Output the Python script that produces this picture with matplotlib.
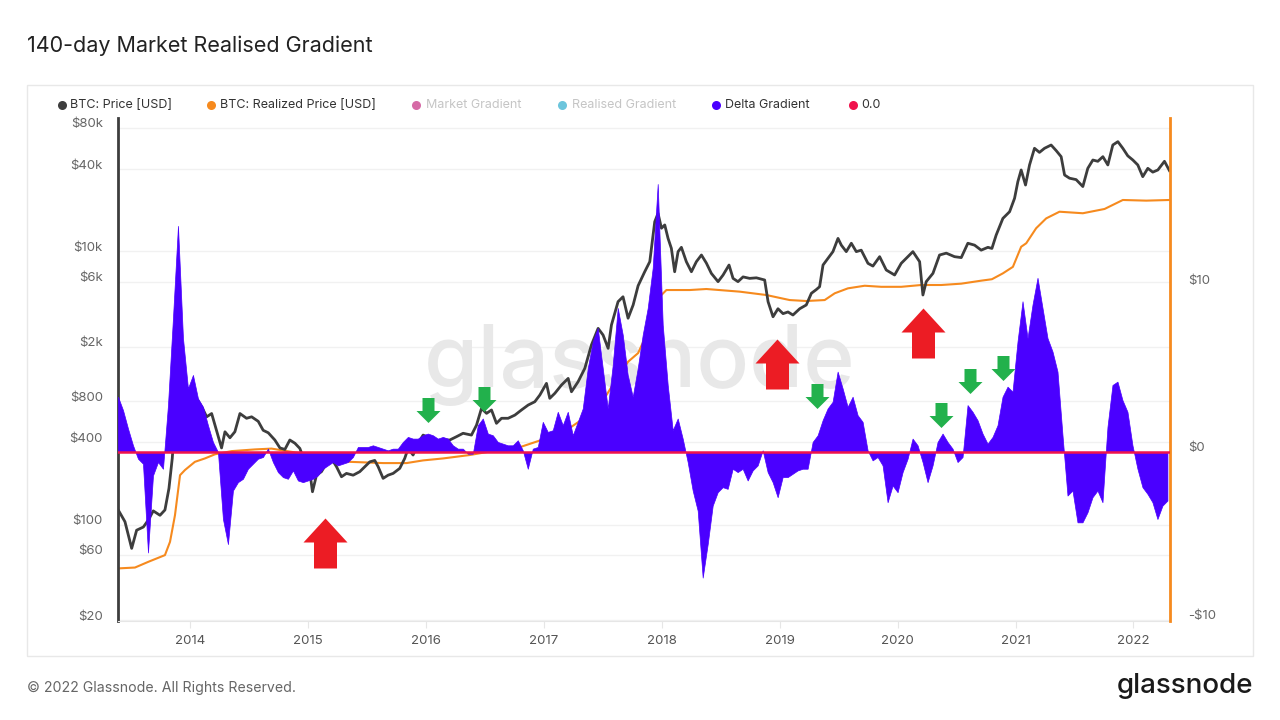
import numpy as np
import matplotlib
matplotlib.use('Agg')
import matplotlib.pyplot as plt
from matplotlib.patches import Rectangle
from matplotlib.lines import Line2D
from matplotlib.ticker import NullLocator
from matplotlib.transforms import ScaledTranslation

plt.rcParams['font.family'] = ['Inter', 'DejaVu Sans']

# ---- data (decimal years) ----
price_years = [2013.392, 2013.449, 2013.506, 2013.548, 2013.605, 2013.647, 2013.689, 2013.746,
               2013.788, 2013.822, 2013.850, 2013.88, 2013.92, 2013.97, 2014.03, 2014.07,
               2014.105, 2014.142, 2014.184, 2014.212, 2014.268, 2014.297, 2014.339, 2014.381,
               2014.424, 2014.48, 2014.523, 2014.579, 2014.621, 2014.664, 2014.72, 2014.763,
               2014.805, 2014.847, 2014.89, 2014.932, 2014.974, 2015.016, 2015.039, 2015.073,
               2015.115, 2015.158, 2015.2, 2015.243, 2015.285, 2015.327, 2015.384, 2015.44,
               2015.483, 2015.525, 2015.567, 2015.596, 2015.638, 2015.68, 2015.723, 2015.779,
               2015.821, 2015.85, 2015.892, 2015.935, 2015.977, 2016.034, 2016.09, 2016.147,
               2016.203, 2016.26, 2016.316, 2016.387, 2016.43, 2016.472, 2016.515, 2016.557,
               2016.599, 2016.642, 2016.698, 2016.755, 2016.811, 2016.868, 2016.924, 2016.967,
               2017.023, 2017.051, 2017.094, 2017.15, 2017.207, 2017.235, 2017.291, 2017.348,
               2017.404, 2017.461, 2017.503, 2017.546, 2017.574, 2017.63, 2017.672, 2017.715,
               2017.758, 2017.8, 2017.856, 2017.899, 2017.941, 2017.969, 2017.998, 2018.026,
               2018.054, 2018.082, 2018.11, 2018.139, 2018.167, 2018.209, 2018.252, 2018.294,
               2018.337, 2018.379, 2018.421, 2018.478, 2018.52, 2018.571, 2018.605, 2018.647,
               2018.69, 2018.746, 2018.803, 2018.873, 2018.902, 2018.944, 2018.986, 2019.029,
               2019.071, 2019.113, 2019.17, 2019.226, 2019.269, 2019.311, 2019.339, 2019.368,
               2019.41, 2019.452, 2019.495, 2019.523, 2019.565, 2019.608, 2019.65, 2019.692,
               2019.749, 2019.791, 2019.848, 2019.904, 2019.975, 2020.031, 2020.088, 2020.13,
               2020.187, 2020.215, 2020.243, 2020.3, 2020.356, 2020.413, 2020.483, 2020.54,
               2020.596, 2020.653, 2020.709, 2020.766, 2020.80, 2020.836, 2020.893, 2020.95,
               2020.992, 2021.02, 2021.048, 2021.085, 2021.119, 2021.161, 2021.203, 2021.246,
               2021.302, 2021.345, 2021.387, 2021.416, 2021.458, 2021.514, 2021.571, 2021.613,
               2021.656, 2021.698, 2021.741, 2021.783, 2021.825, 2021.868, 2021.91, 2021.952,
               2021.995, 2022.037, 2022.079, 2022.122, 2022.164, 2022.207, 2022.263, 2022.305]
price_usd = [128, 105, 67, 91, 96, 108, 126, 117,
             128, 184, 305, 700, 1100, 750, 900, 800,
             713, 615, 650, 535, 364, 478, 432, 478,
             650, 600, 615, 570, 490, 470, 416, 364,
             355, 416, 394, 361, 288, 244, 174, 230,
             244, 281, 305, 265, 224, 237, 230, 244,
             265, 288, 295, 265, 218, 230, 237, 258,
             305, 361, 323, 394, 452, 430, 382, 416,
             416, 440, 466, 452, 535, 709, 652, 690,
             551, 600, 600, 633, 690, 750, 793, 888,
             1081, 840, 914, 1050, 1175, 938, 1110, 1391,
             2061, 2730, 2440, 1950, 2890, 4280, 4650, 3240,
             4050, 5600, 7090, 8400, 16470, 18970, 14760, 15600,
             12440, 10520, 7090, 9950, 10700, 8400, 7090, 8400,
             9400, 8200, 6900, 6000, 6700, 7940, 6340, 6000,
             6500, 6340, 6400, 6170, 4280, 3320, 3800, 3500,
             3600, 3420, 3800, 4050, 4930, 5250, 5510, 7940,
             8890, 9950, 12440, 11100, 9950, 11460, 9950, 10200,
             8170, 7800, 9140, 7300, 6710, 8170, 9140, 9950,
             8400, 4790, 6000, 6900, 9400, 9700, 9140, 9000,
             11460, 11100, 10200, 10700, 10500, 13150, 17420, 19500,
             24440, 32370, 39400, 30570, 42870, 56780, 53000, 56780,
             60000, 54600, 49300, 36200, 34300, 33500, 29800, 40500,
             46600, 45600, 49300, 42870, 60000, 63500, 56780, 50000,
             46600, 42870, 35200, 40500, 38000, 39400, 45600, 39000]

realized_years = [2013.392, 2013.534, 2013.647, 2013.788, 2013.831, 2013.873, 2013.916, 2013.958,
                  2014.042, 2014.127, 2014.212, 2014.353, 2014.551, 2014.692, 2014.85, 2015.129,
                  2015.355, 2015.638, 2015.836, 2015.977, 2016.147, 2016.372, 2016.613, 2016.811,
                  2016.98, 2017.235, 2017.461, 2017.602, 2017.715, 2017.8, 2017.856, 2017.899,
                  2017.983, 2018.04, 2018.238, 2018.379, 2018.661, 2018.887, 2019.085, 2019.226,
                  2019.382, 2019.467, 2019.579, 2019.721, 2019.862, 2020.031, 2020.201, 2020.37,
                  2020.54, 2020.709, 2020.80, 2020.893, 2020.978, 2021.048, 2021.091, 2021.175,
                  2021.26, 2021.373, 2021.571, 2021.755, 2021.91, 2022.108, 2022.305]
realized_usd = [47.8, 48.5, 53.4, 59.8, 74.8, 117, 230, 251,
                288, 305, 327, 345, 355, 360, 342, 314,
                288, 282, 282, 295, 305, 323, 351, 372,
                416, 520, 709, 1110, 1556, 1800, 2300, 3060,
                4650, 5210, 5210, 5300, 5070, 4790, 4400, 4330,
                4400, 4930, 5360, 5600, 5500, 5500, 5670, 5670,
                5800, 6100, 6250, 6900, 7700, 10800, 11460, 14760,
                17420, 19500, 19000, 20420, 23760, 23500, 23760]

# delta gradient, sampled every ~15.5 days from 2013.39
grad_start = 2013.39
grad_step = 5 / 118
delta_gradient = [
    3.3, 2.5, 1.4, 0.4, -0.4, -0.7, -6.0, -1.4, -0.6, -1.0, 2.8, 8.0, 13.5, 6.8, 3.8, 4.6, 3.2, 2.7,
    1.6, 0.6, 0.0, -4.0, -5.5, -2.3, -1.8, -1.6, -1.0, -0.7, -0.4, -0.3, 0.2, -0.6, -1.2, -1.5, -1.6, -1.1,
    -1.7, -1.8, -1.7, -1.6, -1.4, -1.0, -0.8, -0.6, -0.8, -0.7, -0.6, -0.3, 0.3, 0.3, 0.3, 0.4, 0.3,
    0.2, 0.1, 0.2, 0.2, 0.6, 0.9, 0.8, 0.8, 1.0, 1.1, 1.0, 0.8, 0.9, 0.8, 0.4, 0.2, 0.2,
    -0.1, -0.1, 1.6, 2.0, 1.1, 1.0, 0.6, 0.5, 0.4, 0.4, 0.7, 0.1, -1.0, 0.2, 0.3, 1.8, 1.2, 1.3,
    2.4, 1.6, 2.4, 1.0, 1.8, 2.6, 5.0, 6.6, 7.4, 5.0, 2.6, 5.2, 8.6, 7.0, 4.6, 3.3, 5.0,
    7.0, 8.6, 11.0, 16.0, 7.6, 4.0, 1.3, 2.0, 0.8, -0.6, -2.3, -3.5, -7.5, -5.5, -3.2, -2.4, -2.1, -2.2,
    -1.0, -1.2, -1.0, -1.7, -1.1, -0.8, 0.1, -1.2, -1.8, -2.7, -1.5, -1.5, -1.3, -1.1, -1.0, -1.0, 0.6, 1.0,
    1.9, 2.6, 3.0, 4.8, 3.8, 2.7, 3.3, 2.2, 1.8, 0.1, -0.5, -0.3, -0.8, -3.0, -2.0, -2.4, -1.2, -0.4,
    0.8, 0.4, -0.6, -1.8, -0.8, 0.6, 1.1, 0.6, 0.2, -0.6, -0.3, 2.8, 2.4, 1.9, 1.1, 0.5, 0.9,
    1.6, 3.3, 3.9, 3.6, 6.6, 9.0, 6.8, 8.8, 10.4, 8.6, 6.8, 6.0, 4.8, 1.0, -2.6, -2.3, -4.2, -4.2,
    -3.6, -2.7, -2.3, -3.0, 1.5, 4.0, 4.2, 3.1, 2.4, 0.4, -1.0, -2.1, -2.5, -3.0, -4.0, -3.2, -2.9]
grad_years = grad_start + grad_step * np.arange(len(delta_gradient))

left_ticks = [20, 60, 100, 400, 800, 2000, 6000, 10000, 40000, 80000]
left_labels = ['$20', '$60', '$100', '$400', '$800', '$2k', '$6k', '$10k', '$40k', '$80k']
right_ticks = [-10, 0, 10]
right_labels = ['-$10', '$0', '$10']
year_ticks = list(range(2014, 2023))

# annotation arrows (year, gradient units)
red_arrow_x = [2015.144, 2018.975, 2020.216]
red_arrow_y = [-5.46, 5.28, 7.13]
green_arrow_x = [2016.017, 2016.492, 2019.314, 2020.369, 2020.61, 2020.898]
green_arrow_y = [2.48, 3.16, 3.37, 2.21, 4.24, 5.04]

PRICE_C = '#3d3d3d'
REAL_C = '#f68a1e'
DELTA_C = '#4a00ff'
ZERO_C = '#f0134d'

W, H = 1280, 720
fig = plt.figure(figsize=(12.8, 7.2), dpi=100)


def fx(px):
    return px / W


def fy(py):
    return 1 - py / H


card = Rectangle((fx(27), fy(656)), fx(1253) - fx(27), fy(85) - fy(656), transform=fig.transFigure,
                 facecolor='white', edgecolor='#e8e8e8', lw=1, zorder=-5)
fig.patches.append(card)

ax = fig.add_axes([fx(118), fy(621), fx(1170) - fx(118), fy(118) - fy(621)])
ax2 = ax.twinx()
ax.patch.set_alpha(0)

ax.set_yscale('log')
ax.set_xlim(2013.39, 2022.31)
ax.set_ylim(19.7, 94600)
ax2.set_ylim(-10.09, 19.94)

for v in left_ticks:
    ax.axhline(v, color='#f1f1f1', lw=1, zorder=0)

ax.text(0.496, 0.509, 'glassnode', transform=ax.transAxes, ha='center', va='center',
        fontsize=63, color='#e8e8e8', fontweight='medium', zorder=0.5)

ax.plot(price_years, price_usd, color=PRICE_C, lw=2.0, zorder=3)
ax.plot(realized_years, realized_usd, color=REAL_C, lw=1.5, zorder=2)

ax2.fill_between(grad_years, 0, delta_gradient, facecolor=DELTA_C, edgecolor=DELTA_C, lw=0.5, zorder=2)
ax2.axhline(0, color=ZERO_C, lw=1.8, zorder=3)

red_up = [(0, 25), (22, 1), (11.5, 1), (11.5, -25), (-11.5, -25), (-11.5, 1), (-22, 1), (0, 25)]
green_down = [(0, -12.5), (12, -0.5), (6, -0.5), (6, 12.5), (-6, 12.5), (-6, -0.5), (-12, -0.5), (0, -12.5)]
ax2.plot(red_arrow_x, red_arrow_y, ls='none', marker=red_up, markersize=36, color='#ec1c24',
         markeredgewidth=0, zorder=5)
ax2.plot(green_arrow_x, green_arrow_y, ls='none', marker=green_down, markersize=18, color='#22b14c',
         markeredgewidth=0, zorder=5)

# spines
for s in ['top', 'right']:
    ax.spines[s].set_visible(False)
ax.spines['left'].set_color(PRICE_C)
ax.spines['left'].set_linewidth(2)
ax.spines['bottom'].set_color('#e6e6e6')
for s in ['top', 'left', 'bottom']:
    ax2.spines[s].set_visible(False)
ax2.spines['right'].set_color(REAL_C)
ax2.spines['right'].set_linewidth(2)

# ticks
ax.yaxis.set_minor_locator(NullLocator())
ax.set_yticks(left_ticks, left_labels)
ax.tick_params(axis='y', length=0, pad=11, labelsize=9.5, labelcolor='#666')
ax2.set_yticks(right_ticks, right_labels)
ax2.tick_params(axis='y', length=0, pad=13, labelsize=9.5, labelcolor='#666')
ax.set_xticks(year_ticks, [str(y) for y in year_ticks])
ax.tick_params(axis='x', length=5, color='#e6e6e6', pad=5, labelsize=9.5, labelcolor='#555')
shift = ScaledTranslation(0, 5 / 100, fig.dpi_scale_trans)
for lab in ax.get_yticklabels() + ax2.get_yticklabels():
    lab.set_transform(lab.get_transform() + shift)

# title and footer
fig.text(fx(27), fy(46), '140-day Market Realised Gradient', fontsize=15.5, color='#222',
         ha='left', va='center')
fig.text(fx(27), fy(688), '\u00a9 2022 Glassnode. All Rights Reserved.', fontsize=10.2, color='#666',
         ha='left', va='center')
fig.text(fx(1253), fy(686), 'glassnode', fontsize=20, color='#1a1a1a', ha='right', va='center',
         fontweight='medium')

# legend
legend_items = [
    (62, 70, 'BTC: Price [USD]', PRICE_C, '#333'),
    (211, 220, 'BTC: Realized Price [USD]', REAL_C, '#333'),
    (416, 426, 'Market Gradient', '#d66aa6', '#c5c5c5'),
    (562, 572, 'Realised Gradient', '#6cc5dc', '#c5c5c5'),
    (716, 725, 'Delta Gradient', DELTA_C, '#333'),
    (853, 861, '0.0', ZERO_C, '#333'),
]
for dot_x, text_x, label, dcol, tcol in legend_items:
    fig.add_artist(Line2D([fx(dot_x)], [fy(105)], marker='o', markersize=6.5, color=dcol,
                          markeredgewidth=0, transform=fig.transFigure))
    fig.text(fx(text_x), fy(105), label, fontsize=9, color=tcol, ha='left', va='center')

fig.savefig('out.png', dpi=100)
